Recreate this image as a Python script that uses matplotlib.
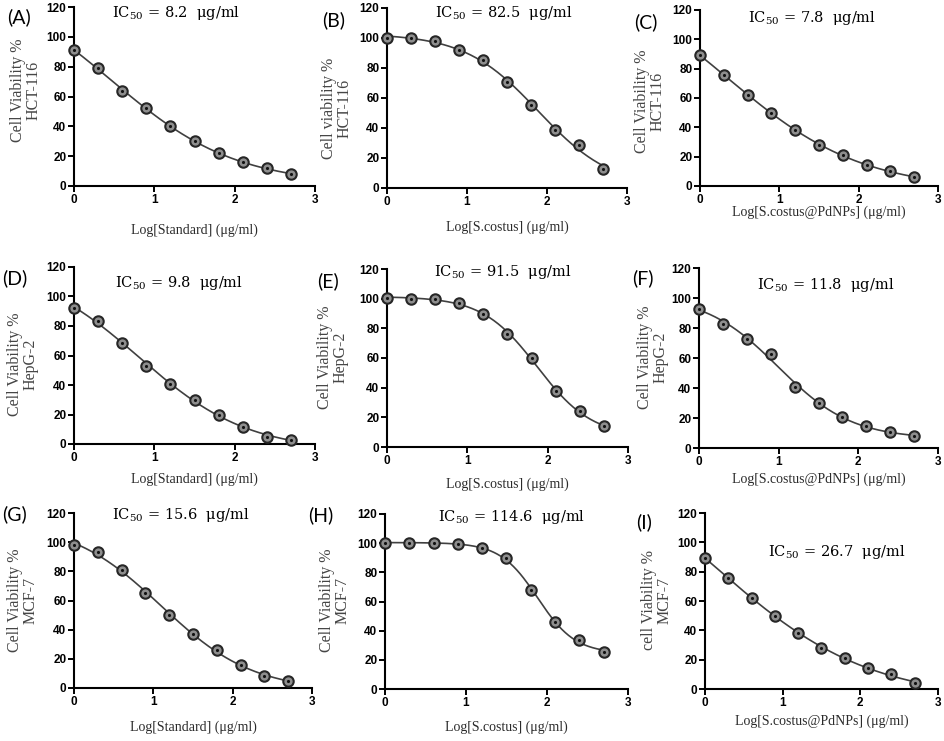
"""
Dose-response panels (cell viability vs log concentration) for three cell lines,
each with a 4-parameter logistic fit drawn through the points.
"""

import matplotlib
matplotlib.use('Agg')
import matplotlib.pyplot as plt
import numpy as np

W, H = 945, 741

rcParams = plt.rcParams
rcParams['mathtext.fontset'] = 'dejavuserif'

# ---- data -------------------------------------------------------------------
log_conc = [0.0, 0.3, 0.6, 0.9, 1.2, 1.5, 1.8, 2.1, 2.4, 2.7]

via_A = [91, 79, 64, 52, 40, 30, 22, 16, 12, 8]
via_B = [100, 100, 98, 92, 85.5, 71, 55.5, 38.5, 29, 13]
via_C = [89, 76, 62, 50, 38, 28, 21, 14.5, 10, 6]
via_D = [92, 83.5, 68.5, 53, 41, 29.5, 20, 11.5, 5, 3]
via_E = [100.5, 100, 100, 97, 89.5, 76.5, 60, 37.5, 24.5, 14]
via_F = [93, 83, 72.5, 62.5, 41, 30, 21, 14.5, 10.5, 8]
via_G = [98, 93, 81, 65, 50, 37, 26, 16, 8, 5]
via_H = [100, 100, 100, 99.5, 97, 89.5, 68, 46, 33.5, 25.5]
via_I = [89, 76, 62, 50, 38, 28, 21, 14.5, 10, 4]

panel_names = ['A', 'B', 'C', 'D', 'E', 'F', 'G', 'H', 'I']
ic50_values = ['8.2', '82.5', '7.8', '9.8', '91.5', '11.8', '15.6', '114.6', '26.7']
x_labels = ['Log[Standard] (\u03bcg/ml)', 'Log[S.costus] (\u03bcg/ml)',
            'Log[S.costus@PdNPs] (\u03bcg/ml)']
y_labels = ['Cell Viability %\nHCT-116', 'Cell viability %\nHCT-116', 'Cell Viability %\nHCT-116',
            'Cell Viability %\nHepG-2', 'Cell Viability %\nHepG-2', 'Cell Viability %\nHepG-2',
            'Cell Viability %\nMCF-7', 'Cell Viability %\nMCF-7', 'cell Viability %\nMCF-7']
y_ticks = [0, 20, 40, 60, 80, 100, 120]
x_ticks = [0, 1, 2, 3]

viability = [via_A, via_B, via_C, via_D, via_E, via_F, via_G, via_H, via_I]

# ---- layout (pixels in the 945x741 figure) -----------------------------------
# axes box: left, top, right, bottom
boxes = [(74, 7, 315, 186), (387, 8, 627, 188), (700, 10, 938, 186),
         (74, 267, 315, 444), (387, 269, 628, 447), (699, 268, 938, 448),
         (74, 513, 312, 688), (385, 514, 628, 689), (705, 513, 938, 689)]
letter_pos = [(19, 17), (334, 20), (646, 22), (15, 278), (328, 281), (643, 278),
              (15, 514), (321, 515), (644, 522)]
ic50_pos = [(112, 13), (435, 13), (748, 18), (115, 283), (434, 272), (757, 285),
            (112, 515), (438, 517), (768, 552)]
ylab_pos = [(26, 90), (337, 108), (650, 101), (23, 364), (333, 357), (653, 357),
            (23, 600), (335, 600), (657, 600)]
xlab_y = [230, 227, 212, 479, 484, 479, 727, 727, 721]


def fit_4pl(x, y):
    # y = bottom + (top-bottom) / (1 + 10**((x - c)*h)), brute force over c, h
    # with bottom/top solved by linear least squares for each pair
    x = np.asarray(x, float)
    y = np.asarray(y, float)
    cs = np.arange(-1.0, 4.0, 0.005)
    hs = np.arange(0.2, 5.0, 0.01)
    C, Hh = np.meshgrid(cs, hs, indexing='ij')
    f = 1.0 / (1.0 + 10.0 ** ((x[None, None, :] - C[..., None]) * Hh[..., None]))
    fm = f.mean(-1, keepdims=True)
    ym = y.mean()
    var = ((f - fm) ** 2).sum(-1)
    cov = ((f - fm) * (y - ym)).sum(-1)
    b = cov / np.where(var > 1e-12, var, np.nan)
    a = ym - b * fm[..., 0]
    sse = ((y - a[..., None] - b[..., None] * f) ** 2).sum(-1)
    sse = np.where(np.isnan(sse), np.inf, sse)
    i, j = np.unravel_index(np.argmin(sse), sse.shape)
    return a[i, j], b[i, j], cs[i], hs[j]


def px(x, y):
    return x / W, 1 - y / H


fig = plt.figure(figsize=(W / 100, H / 100), dpi=100)

for k in range(9):
    l, t, r, b = boxes[k]
    ax = fig.add_axes([l / W, 1 - b / H, (r - l) / W, (b - t) / H])
    y = viability[k]

    a, bb, c, h = fit_4pl(log_conc, y)
    xf = np.linspace(log_conc[0], log_conc[-1], 200)
    yf = a + bb / (1.0 + 10.0 ** ((xf - c) * h))
    ax.plot(xf, yf, color='#404040', lw=1.2, zorder=2)

    ax.plot(log_conc, y, 'o', ms=7.5, mfc='#8e8e8e', mec='#262626', mew=1.5,
            zorder=3, clip_on=False)
    ax.plot(log_conc, y, '.', ms=2.5, color='#111111', zorder=4, clip_on=False)

    ax.set_xlim(0, 3)
    ax.set_ylim(0, 120)
    ax.set_xticks(x_ticks)
    ax.set_yticks(y_ticks)
    for s in ['top', 'right']:
        ax.spines[s].set_visible(False)
    for s in ['left', 'bottom']:
        ax.spines[s].set_linewidth(1.5)
    ax.tick_params(direction='out', length=4, width=1.4, pad=1.5, labelsize=8.5)
    for lab in ax.get_xticklabels() + ax.get_yticklabels():
        lab.set_fontweight('bold')
        lab.set_family('Liberation Sans')

    ax.set_xlabel(x_labels[k % 3], family='Liberation Serif', fontsize=10, color='#2b2b2b')
    ax.xaxis.set_label_coords(*px((l + r) / 2, xlab_y[k]), transform=fig.transFigure)
    ax.xaxis.label.set_va('center')

    ax.set_ylabel(y_labels[k], family='Liberation Serif', fontsize=11.5, color='#454545',
                  linespacing=0.95)
    ax.yaxis.set_label_coords(*px(*ylab_pos[k]), transform=fig.transFigure)
    ax.yaxis.label.set_va('center')

    fig.text(*px(*letter_pos[k]), '(%s)' % panel_names[k], family='Lato', fontsize=14,
             ha='center', va='center')
    fig.text(*px(*ic50_pos[k]), r'IC$_{\mathrm{50}}$ = ' + ic50_values[k] + '  \u03bcg/ml',
             family='DejaVu Serif', fontsize=10.5, ha='left', va='center')

fig.savefig('out.png', dpi=100)
